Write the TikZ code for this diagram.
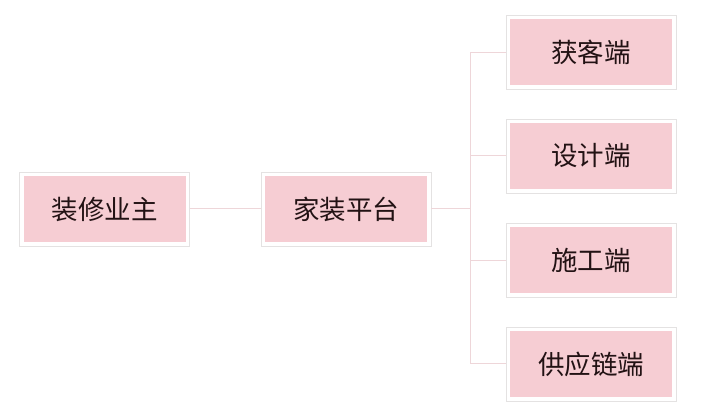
\documentclass[tikz,border=0pt]{standalone}
\usepackage{fontspec}
\setmainfont{Noto Sans CJK SC}
\usetikzlibrary{calc}
\definecolor{boxpink}{RGB}{246, 205, 211}
\definecolor{boxedge}{RGB}{228, 226, 226}
\definecolor{linkpink}{RGB}{238, 214, 217}
\definecolor{textdark}{RGB}{34, 18, 20}

\tikzset{
  rolebox/.style={
    fill=white, draw=boxedge, line width=0.8pt,
    minimum width=170pt, minimum height=74pt, inner sep=0pt,
    text=textdark, font=\fontsize{26.5}{30}\selectfont,
    path picture={
      \fill[boxpink]
        ([shift={(4pt,4pt)}]path picture bounding box.south west)
        rectangle ([shift={(-4pt,-4pt)}]path picture bounding box.north east);
    }
  },
  link/.style={draw=linkpink, line width=1pt}
}

\begin{document}
\begin{tikzpicture}[x=1pt, y=1pt]

% page area and white ground
\fill[white] (0,0) rectangle (720,417);
\useasboundingbox (0,0) rectangle (720,417);

% ===== left: owner and platform =====
\node[rolebox] (owner)    at (104.5,208) {装修业主};
\node[rolebox] (platform) at (346,208)   {家装平台};

% ===== right column: the four sides =====
\node[rolebox] (client) at (591,364.5) {获客端};
\node[rolebox] (design) at (591,261)   {设计端};
\node[rolebox] (build)  at (591,156.5) {施工端};
\node[rolebox] (supply) at (591,53)    {供应链端};

% ===== connectors =====
\coordinate (bus) at (470,208);

\draw[link] (owner.east) -- (platform.west);
\draw[link] (platform.east) -- (bus);
\draw[link] (bus |- client.west) -- (bus |- supply.west);

\draw[link] (bus |- client.west) -- (client.west);
\draw[link] (bus |- design.west) -- (design.west);
\draw[link] (bus |- build.west)  -- (build.west);
\draw[link] (bus |- supply.west) -- (supply.west);

\end{tikzpicture}
\end{document}
